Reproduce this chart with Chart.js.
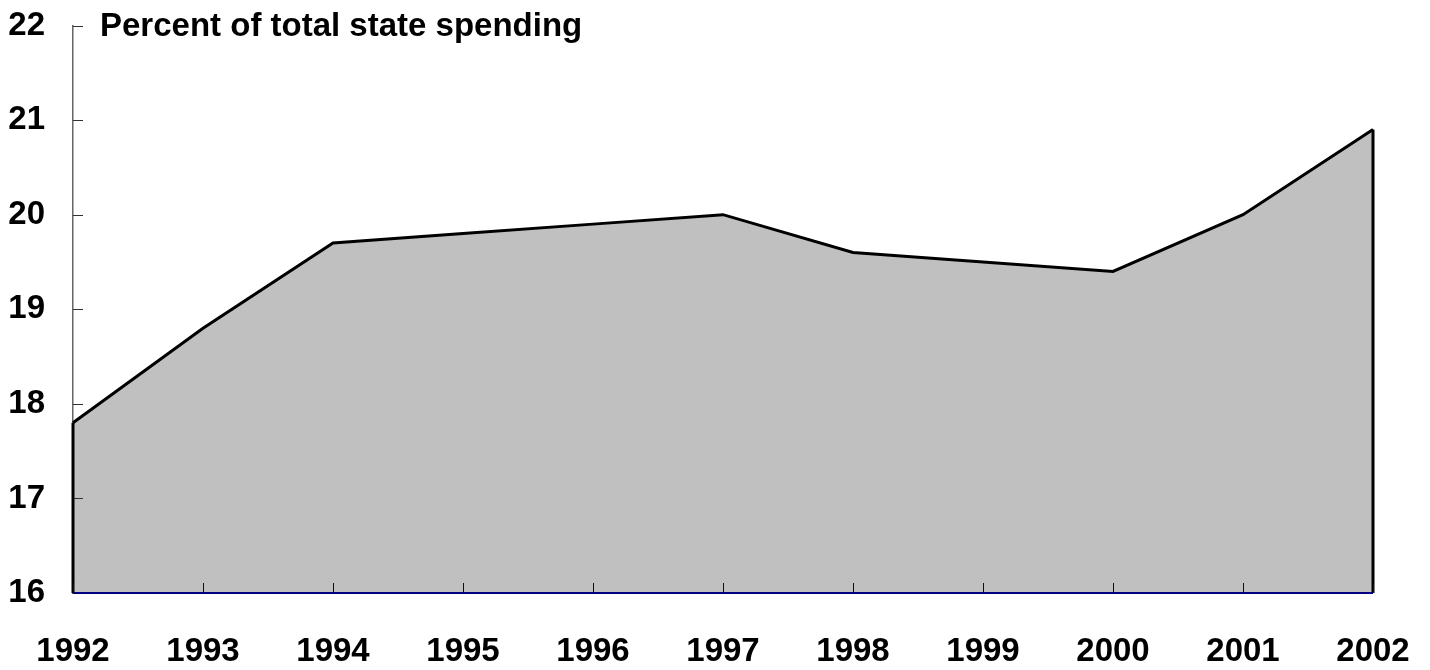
<!DOCTYPE html>
<html>
<head>
<meta charset="utf-8">
<script src="https://cdn.jsdelivr.net/npm/chart.js@4"></script>
<style>
  html, body { margin: 0; padding: 0; background: #ffffff; }
  #wrap { width: 1430px; height: 670px; position: relative; }
</style>
</head>
<body>
<div id="wrap"><canvas id="c" width="1430" height="670"></canvas></div>
<script>
const years = ['1992','1993','1994','1995','1996','1997','1998','1999','2000','2001','2002'];
const sharePct = [17.8, 18.8, 19.7, 19.8, 19.9, 20.0, 19.6, 19.5, 19.4, 20.0, 20.9];
const yTicks = [16, 17, 18, 19, 20, 21, 22];
const chartTitle = 'Percent of total state spending';

const FONT = "'Liberation Sans', Arial, Helvetica, sans-serif";

function zeroPad(s) { s.paddingTop = 0; s.paddingBottom = 0; s.paddingLeft = 0; s.paddingRight = 0; }

const extras = {
  id: 'extras',
  afterDraw(chart) {
    const ctx = chart.ctx;
    const area = chart.chartArea;
    const xs = chart.scales.x, ys = chart.scales.y;
    ctx.save();
    // y-axis inner ticks
    ctx.strokeStyle = '#333333';
    ctx.lineWidth = 1;
    yTicks.forEach(v => {
      const py = Math.round(ys.getPixelForValue(v)) + 0.5;
      ctx.beginPath();
      ctx.moveTo(area.left, py);
      ctx.lineTo(area.left + 10, py);
      ctx.stroke();
    });
    // area vertical edges
    const pts = chart.getDatasetMeta(0).data;
    ctx.strokeStyle = '#000000';
    ctx.lineWidth = 3;
    [pts[0], pts[pts.length - 1]].forEach(p => {
      ctx.beginPath();
      ctx.moveTo(p.x, p.y);
      ctx.lineTo(p.x, area.bottom);
      ctx.stroke();
    });
    // x-axis baseline and inner ticks
    ctx.strokeStyle = '#000080';
    ctx.lineWidth = 2;
    ctx.beginPath();
    ctx.moveTo(area.left, area.bottom);
    ctx.lineTo(area.right, area.bottom);
    ctx.stroke();
    ctx.lineWidth = 1;
    years.forEach((y, i) => {
      const px = Math.round(xs.getPixelForValue(i)) + 0.5;
      ctx.beginPath();
      ctx.moveTo(px, area.bottom);
      ctx.lineTo(px, area.bottom - 10);
      ctx.stroke();
    });
    // title
    ctx.fillStyle = '#000000';
    ctx.font = "bold 33px " + FONT;
    ctx.textAlign = 'left';
    ctx.textBaseline = 'alphabetic';
    ctx.fillText(chartTitle, area.left + 27, area.top + 10);
    ctx.restore();
  }
};

new Chart(document.getElementById('c'), {
  type: 'line',
  data: {
    labels: years,
    datasets: [{
      data: sharePct,
      backgroundColor: '#c0c0c0',
      borderColor: '#000000',
      borderWidth: 3,
      fill: 'start',
      tension: 0,
      pointRadius: 0,
      borderJoinStyle: 'miter'
    }]
  },
  options: {
    responsive: false,
    animation: false,
    layout: { autoPadding: false, padding: { top: 25.5, right: 57, left: 0, bottom: 0 } },
    plugins: { legend: { display: false }, tooltip: { enabled: false }, title: { display: false } },
    scales: {
      x: {
        type: 'category',
        offset: false,
        grid: { display: false, drawTicks: false },
        border: { display: false },
        ticks: {
          color: '#000000',
          font: { family: FONT, size: 33, weight: 'bold' },
          padding: 39,
          maxRotation: 0,
          autoSkip: false
        },
        afterFit(s) { s.height = 77; zeroPad(s); }
      },
      y: {
        min: 16,
        max: 22,
        afterBuildTicks(s) { s.ticks = yTicks.map(v => ({ value: v })); },
        grid: { display: false, drawTicks: false },
        border: { display: true, color: '#666666', width: 1.5 },
        ticks: {
          color: '#000000',
          font: { family: FONT, size: 33, weight: 'bold' },
          padding: 28
        },
        afterFit(s) { s.width = 73; zeroPad(s); }
      }
    }
  },
  plugins: [extras]
});
</script>
</body>
</html>
